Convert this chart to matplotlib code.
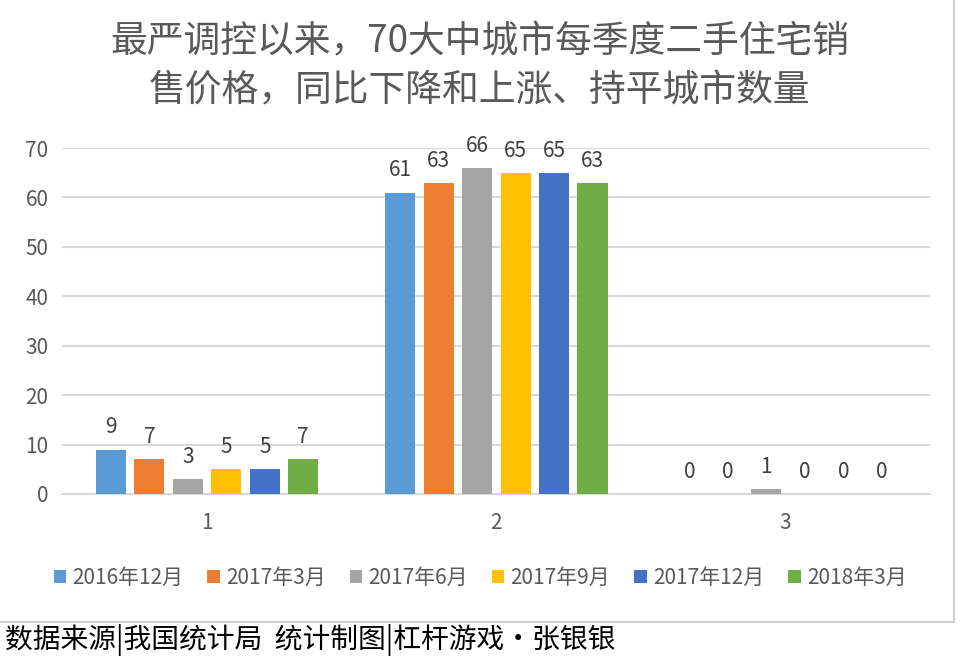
import matplotlib
matplotlib.use('Agg')
import matplotlib.pyplot as plt
from matplotlib.patches import Rectangle
import numpy as np

plt.rcParams['font.family'] = ['Noto Sans CJK SC', 'DejaVu Sans']

# data
groups = ['1', '2', '3']
series = ['2016年12月', '2017年3月', '2017年6月', '2017年9月', '2017年12月', '2018年3月']
values = [
    [9, 61, 0],
    [7, 63, 0],
    [3, 66, 1],
    [5, 65, 0],
    [5, 65, 0],
    [7, 63, 0],
]
colors = ['#5B9BD5', '#ED7D31', '#A5A5A5', '#FFC000', '#4472C4', '#70AD47']
title = '最严调控以来，70大中城市每季度二手住宅销\n售价格，同比下降和上涨、持平城市数量'
footer = '数据来源|我国统计局  统计制图|杠杆游戏·张银银'

grey = '#595959'

fig = plt.figure(figsize=(9.6, 6.62), dpi=100)
ax = fig.add_axes([0.065, 0.2538, 0.904, 0.5226])

x = np.arange(1, len(groups) + 1)
step = 0.133
width = 0.104
for i, (name, vals) in enumerate(zip(series, values)):
    pos = x + (i - 2.5) * step
    bars = ax.bar(pos, vals, width=width, color=colors[i], label=name, zorder=3)
    for b, v in zip(bars, vals):
        ax.annotate(str(v), (b.get_x() + b.get_width() / 2, v),
                    xytext=(0, 8), textcoords='offset points',
                    ha='center', va='bottom', fontsize=15, color='#404040')

ax.set_xlim(0.5, 3.5)
ax.set_ylim(0, 70)
ax.set_yticks(range(0, 71, 10))
ax.set_xticks(x)
ax.set_xticklabels(groups)
ax.grid(axis='y', color='#d9d9d9', linewidth=1.5, zorder=0)
for s in ['top', 'right', 'left']:
    ax.spines[s].set_visible(False)
ax.spines['bottom'].set_color('#d9d9d9')
ax.spines['bottom'].set_linewidth(1.5)
ax.tick_params(axis='both', length=0, labelsize=15, labelcolor=grey)
ax.tick_params(axis='y', pad=10)
ax.tick_params(axis='x', pad=13)

fig.text(0.5, 0.9, title, ha='center', va='center', fontsize=26.5,
         color=grey, linespacing=1.35)

fig.legend(loc='center', bbox_to_anchor=(0.5, 0.127), ncol=6, frameon=False,
           fontsize=15, handlelength=0.6, handleheight=0.6, handletextpad=0.3,
           columnspacing=1.15, labelcolor=grey)

# chart border and footer
fig.add_artist(Rectangle((-0.01, 1 - 622 / 662), 0.007 + 957 / 960, 1.02,
                         transform=fig.transFigure, fill=False,
                         edgecolor='#d0d0d0', linewidth=1.5))
fig.text(0.005, 1 - 640 / 662, footer, ha='left', va='center', fontsize=20,
         color='black')

fig.savefig('out.png', dpi=100)
